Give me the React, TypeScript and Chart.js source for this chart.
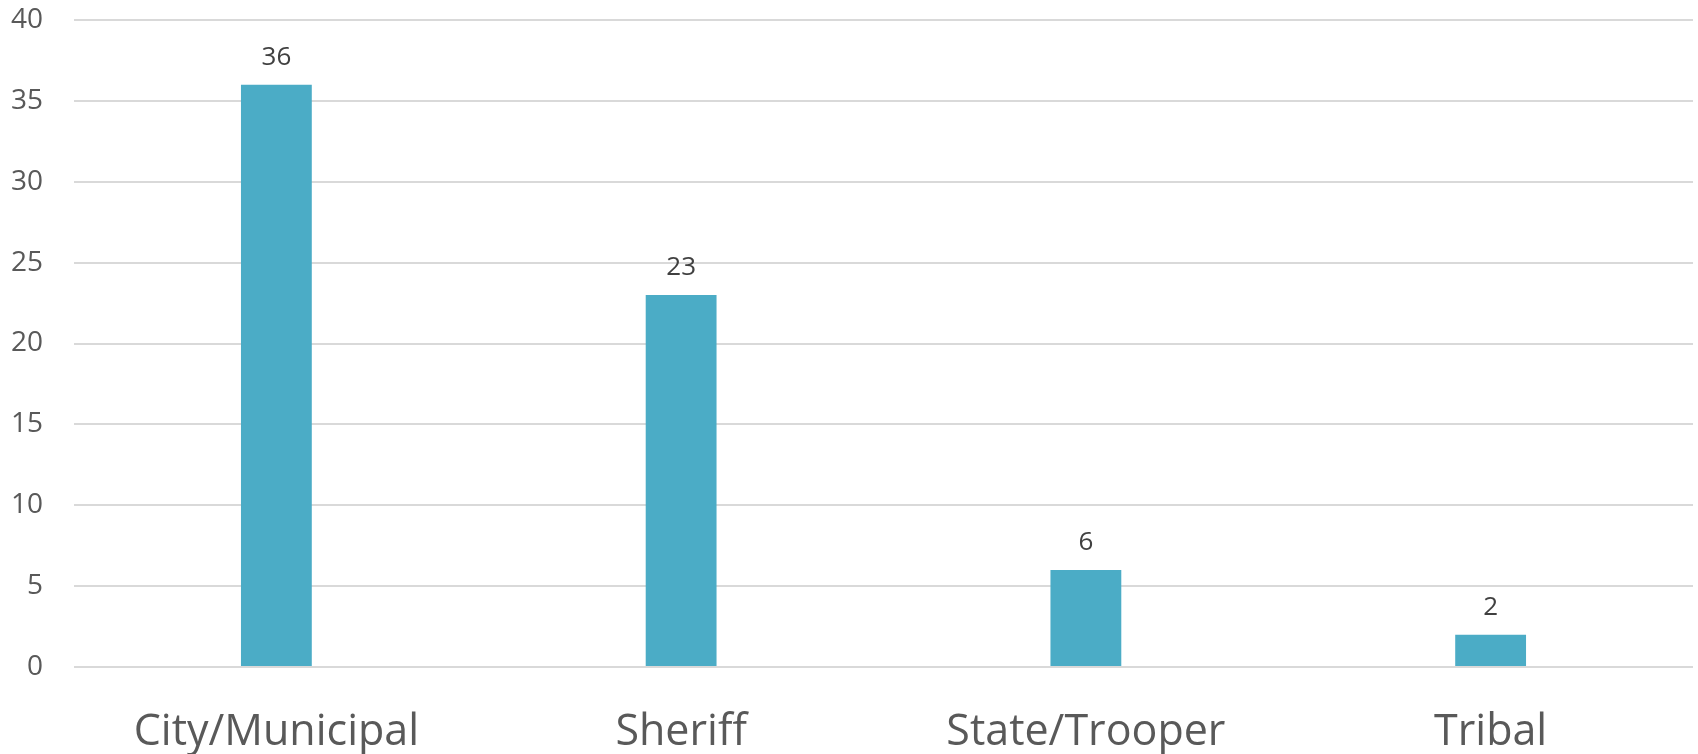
import React, { useEffect, useRef } from "react";
import { Chart, registerables } from "chart.js";

Chart.register(...registerables);

const categories: string[] = ["City/Municipal", "Sheriff", "State/Trooper", "Tribal"];
const counts: number[] = [36, 23, 6, 2];
const yTicks: number[] = [0, 5, 10, 15, 20, 25, 30, 35, 40];

const FONT = "'Open Sans', 'Noto Sans', sans-serif";

const valueLabels = {
  id: "valueLabels",
  afterDatasetsDraw(chart: any) {
    const ctx = chart.ctx;
    const meta = chart.getDatasetMeta(0);
    ctx.save();
    ctx.font = `26px ${FONT}`;
    ctx.fillStyle = "#404040";
    ctx.textAlign = "center";
    ctx.textBaseline = "alphabetic";
    meta.data.forEach((bar: any, i: number) => {
      ctx.fillText(String(counts[i]), bar.x, bar.y - 20);
    });
    ctx.restore();
  },
};

export default function App() {
  const ref = useRef<HTMLCanvasElement | null>(null);

  useEffect(() => {
    document.body.style.margin = "0";
    if (!ref.current) return;
    const chart = new Chart(ref.current, {
      type: "bar",
      data: {
        labels: categories,
        datasets: [
          {
            data: counts,
            backgroundColor: "#4bacc6",
            borderWidth: 0,
            barPercentage: 0.175,
            categoryPercentage: 1,
          },
        ],
      },
      plugins: [valueLabels],
      options: {
        responsive: false,
        animation: false,
        devicePixelRatio: 1,
        layout: { padding: { top: 20, right: 5, left: 0, bottom: 0 } },
        plugins: {
          legend: { display: false },
          tooltip: { enabled: false },
          title: { display: false },
        },
        scales: {
          x: {
            grid: { display: false, drawTicks: false },
            border: { display: false },
            ticks: {
              color: "#595959",
              font: { family: FONT, size: 43 },
              padding: 40,
              maxRotation: 0,
              autoSkip: false,
            },
            afterFit(scale: any) {
              scale.height = 87;
            },
          },
          y: {
            min: 0,
            max: 40,
            afterBuildTicks(scale: any) {
              scale.ticks = yTicks.map((v) => ({ value: v }));
            },
            grid: { color: "#d9d9d9", lineWidth: 2, drawTicks: false },
            border: { display: false },
            ticks: {
              color: "#595959",
              font: { family: FONT, size: 28 },
              padding: 31,
            },
            afterFit(scale: any) {
              scale.width = 74;
              scale.paddingTop = 0;
            },
          },
        },
      },
    });
    return () => chart.destroy();
  }, []);

  return (
    <div style={{ position: "absolute", left: 0, top: 0, width: 1698, height: 754 }}>
      <canvas ref={ref} width={1698} height={754} style={{ width: 1698, height: 754 }} />
    </div>
  );
}
